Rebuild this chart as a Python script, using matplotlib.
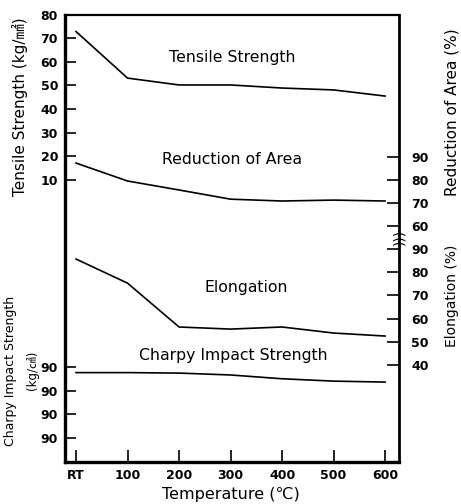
import matplotlib.pyplot as plt

# 数据
temps = [0, 100, 200, 300, 400, 500, 600]
temp_labels = ['RT', '100', '200', '300', '400', '500', '600']
tensile = [72.8, 53.1, 50.2, 50.2, 48.9, 48.1, 45.5]
reduction = [87.4, 79.6, 75.7, 71.7, 70.9, 71.3, 70.9]
elongation = [85.7, 75.3, 56.4, 55.5, 56.4, 53.8, 52.5]
charpy = [18.8, 18.8, 18.7, 18.3, 17.5, 17.0, 16.8]

tensile_ticks = [10, 20, 30, 40, 50, 60, 70, 80]
ra_ticks = [60, 70, 80, 90]
el_ticks = [40, 50, 60, 70, 80, 90]
charpy_ticks = [5, 10, 15, 20]
charpy_tick_labels = ['90', '90', '90', '90']

plt.rcParams['font.family'] = ['DejaVu Sans', 'Noto Sans CJK JP']

fig = plt.figure(figsize=(4.61, 5.04), dpi=100)
ax = fig.add_axes([0.141, 0.0833, 0.7245, 0.8879])

# 抗拉强度 (左轴)
ax.plot(temps, tensile, color='black', lw=1.2)
ax.set_xlim(-21.4, 627)
ax.set_ylim(-109.3, 80)
ax.set_yticks(tensile_ticks)
ax.set_xticks(temps)
ax.set_xticklabels(temp_labels)
ax.tick_params(axis='y', direction='in', length=8, width=1.2, labelsize=9, pad=5)
ax.tick_params(axis='x', direction='in', length=9, width=1.2, labelsize=9, pad=5)
for s, w in zip(['left', 'bottom', 'right', 'top'], [2.4, 2.4, 2.0, 1.6]):
    ax.spines[s].set_linewidth(w)

# 断面收缩率 (右轴)
ax_ra = ax.twinx()
ax_ra.plot(temps, reduction, color='black', lw=1.2)
ax_ra.set_ylim(-42.6, 152)
ax_ra.set_yticks(ra_ticks)

# 伸长率 (右轴)
ax_el = ax.twinx()
ax_el.plot(temps, elongation, color='black', lw=1.2)
ax_el.set_ylim(-1.8, 191.1)
ax_el.set_yticks(el_ticks)

# 冲击韧性 (左轴)
ax_ch = ax.twinx()
ax_ch.plot(temps, charpy, color='black', lw=1.2)
ax_ch.set_ylim(-0.1, 94.5)
ax_ch.yaxis.tick_left()
ax_ch.set_yticks(charpy_ticks)
ax_ch.set_yticklabels(charpy_tick_labels)

for a in [ax_ra, ax_el, ax_ch]:
    for s in a.spines.values():
        s.set_visible(False)
    a.tick_params(axis='y', direction='in', length=9, width=1.2, labelsize=9, pad=9)
ax_ch.tick_params(axis='y', length=8, pad=5)

for a in [ax, ax_ra, ax_el, ax_ch]:
    for lab in a.get_xticklabels() + a.get_yticklabels():
        lab.set_fontweight('bold')

# 曲线标注
ax.text(0.50, 0.905, 'Tensile Strength', transform=ax.transAxes, ha='center', va='center', fontsize=11.3)
ax.text(0.50, 0.675, 'Reduction of Area', transform=ax.transAxes, ha='center', va='center', fontsize=11.3)
ax.text(0.542, 0.389, 'Elongation', transform=ax.transAxes, ha='center', va='center', fontsize=11.3)
ax.text(0.505, 0.237, 'Charpy Impact Strength', transform=ax.transAxes, ha='center', va='center', fontsize=11.3)

# 断轴符号
ax.text(1.0, 0.503, ')))', transform=ax.transAxes, ha='center', va='center',
        rotation=90, fontsize=10, linespacing=0.5)

# 轴标题
fig.text(0.043, 1 - 107 / 504, 'Tensile Strength (kg/㎟)', rotation=90, ha='center', va='center', fontsize=11)
fig.text(0.022, 1 - 371 / 504, 'Charpy Impact Strength', rotation=90, ha='center', va='center', fontsize=9)
fig.text(0.070, 1 - 370 / 504, '(kg/㎠)', rotation=90, ha='center', va='center', fontsize=8.5)
fig.text(0.981, 1 - 112 / 504, 'Reduction of Area (%)', rotation=90, ha='center', va='center', fontsize=11)
fig.text(0.981, 1 - 296 / 504, 'Elongation (%)', rotation=90, ha='center', va='center', fontsize=10)
fig.text(0.500, 1 - 494 / 504, 'Temperature (℃)', ha='center', va='center', fontsize=11.5)

fig.savefig('out.png', dpi=100)
